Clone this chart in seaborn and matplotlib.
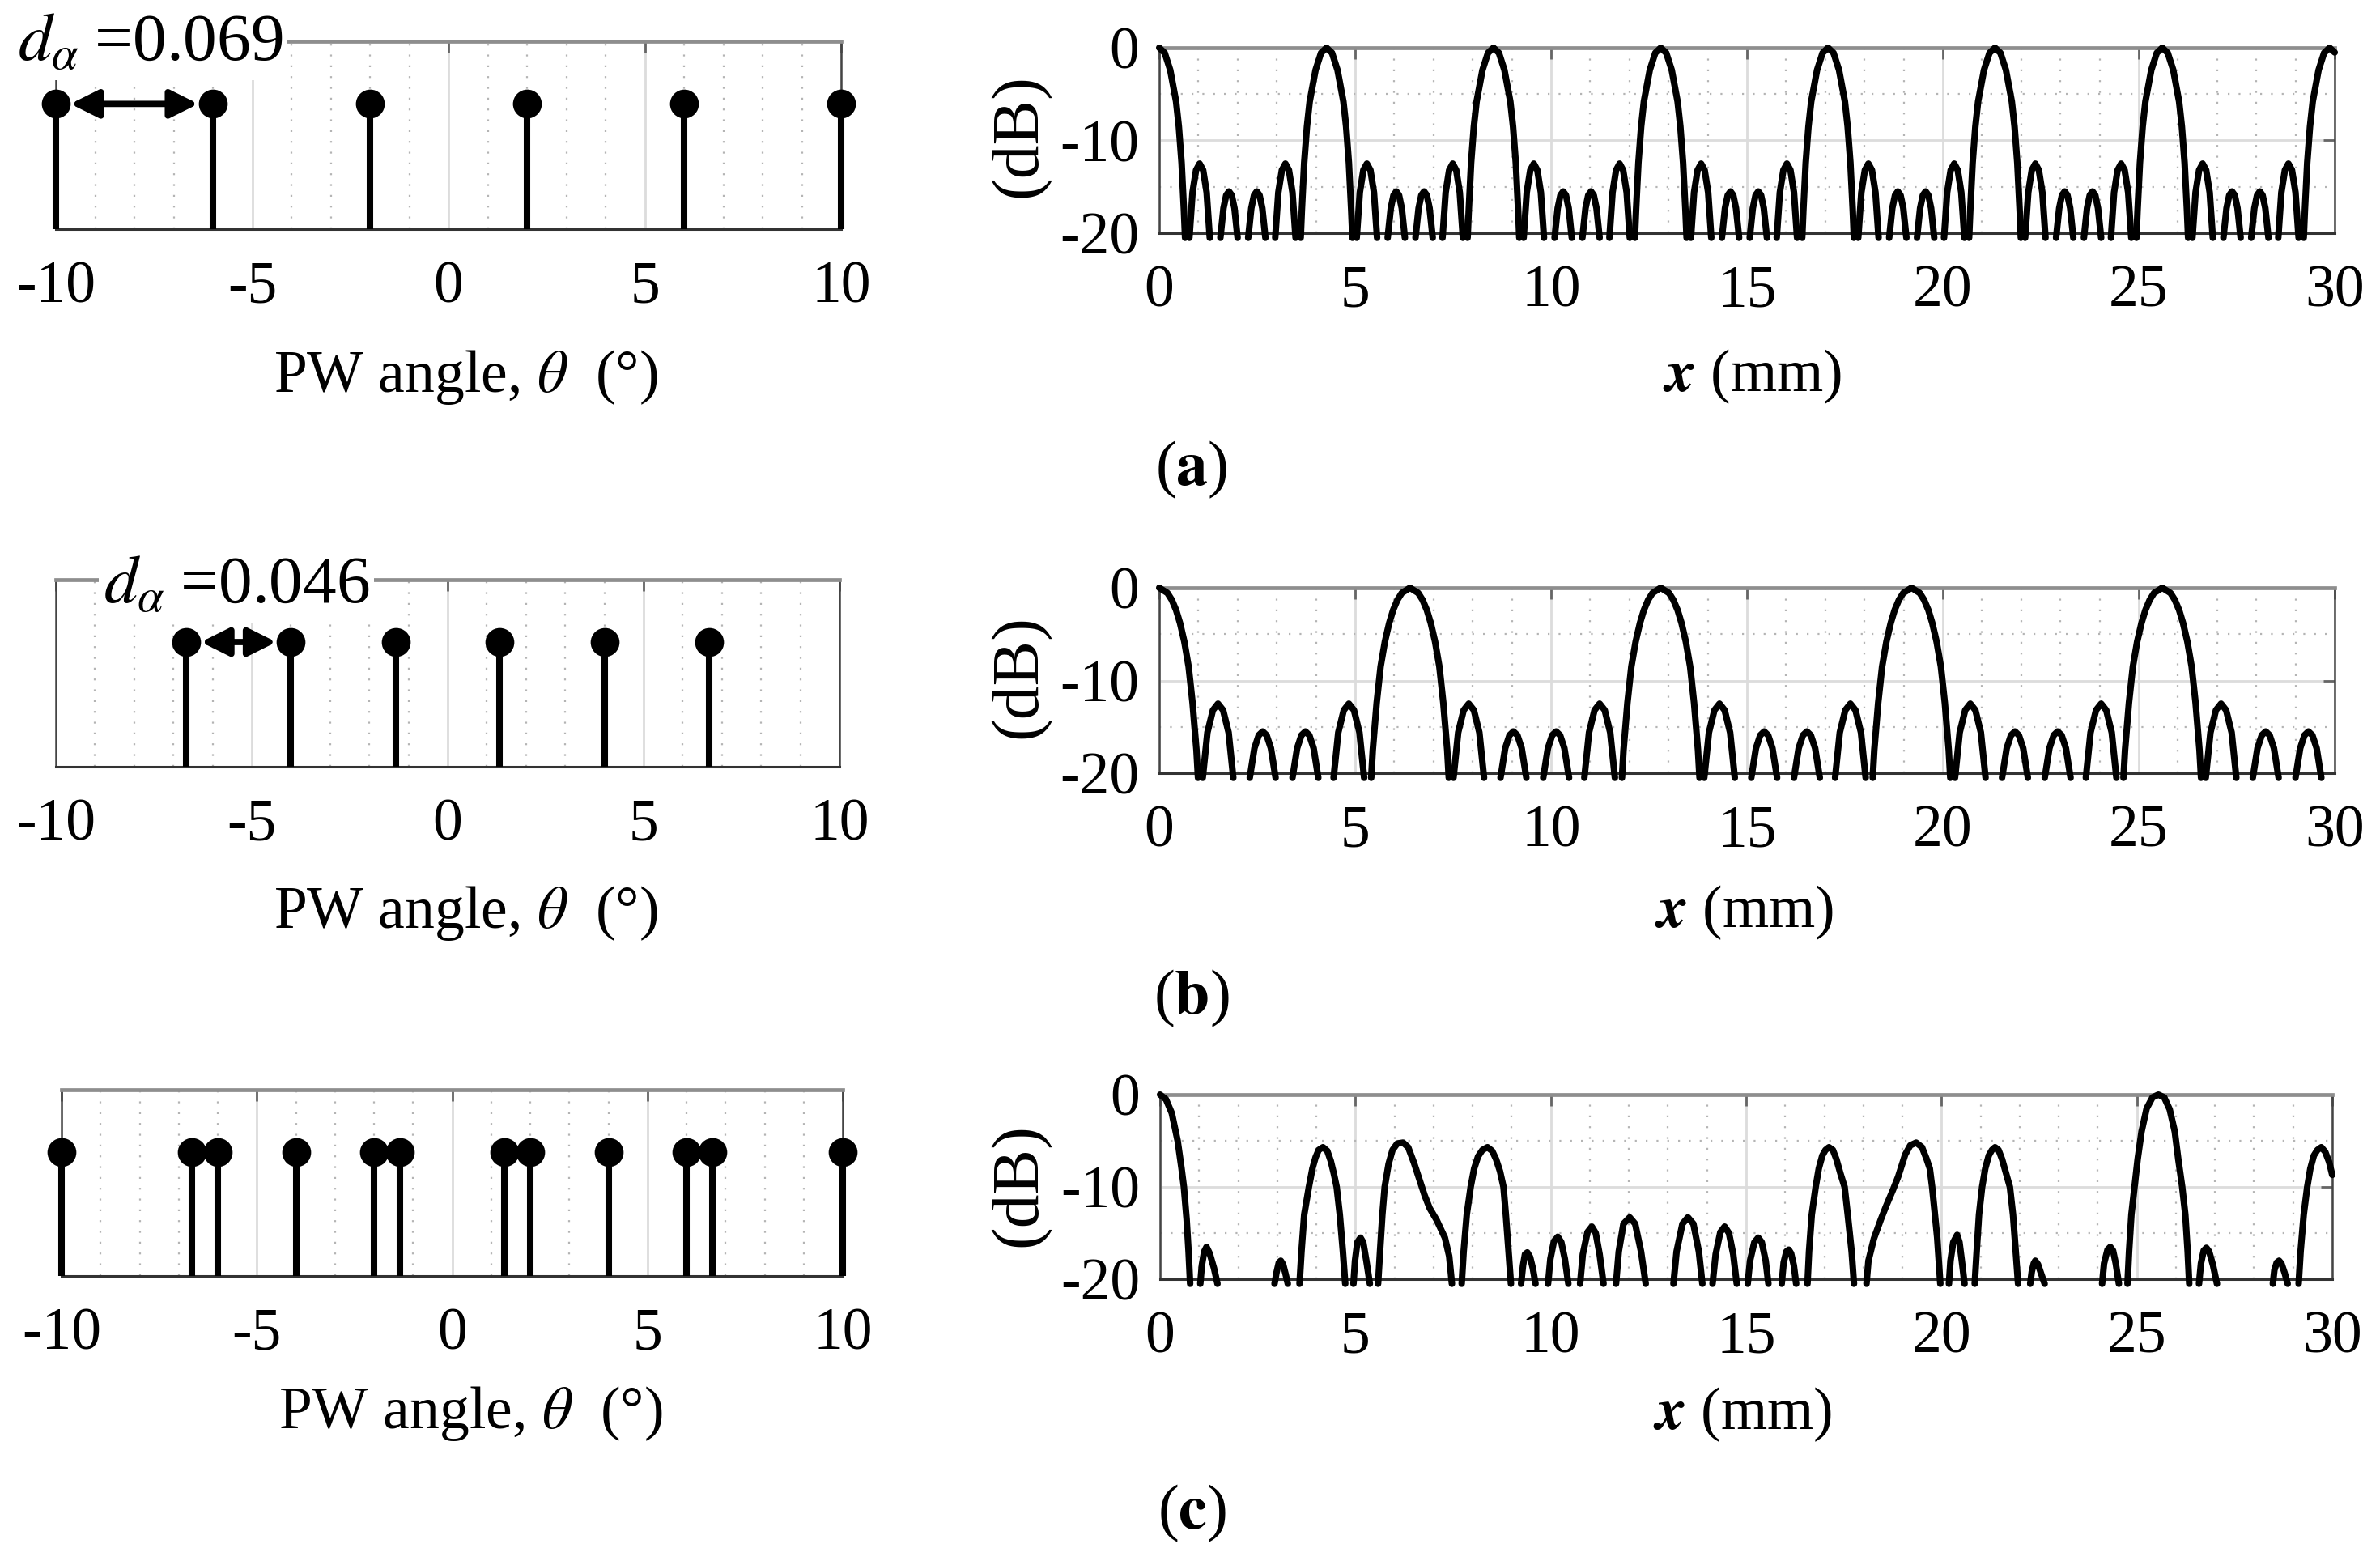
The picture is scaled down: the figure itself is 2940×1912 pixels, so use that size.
#!/usr/bin/env python3
"""Plane-wave angle sets (left) and the grating lobe profiles they produce (right)."""

import numpy as np
import pandas as pd
import matplotlib
matplotlib.use("Agg")
import matplotlib.pyplot as plt
from matplotlib.ticker import MultipleLocator
import seaborn as sns

GAP = np.nan  # breaks the curve where it drops under -20 dB

ANGLES_A = [-10, -6, -2, 2, 6, 10]
ANGLES_B = [-6.67, -4, -1.33, 1.33, 4, 6.67]
ANGLES_C = [-10, -6.67, -6, -4, -2, -1.33, 1.33, 2, 4, 6, 6.67, 10]

ANGLE_TICKS = [-10, -5, 0, 5, 10]
X_TICKS = [0, 5, 10, 15, 20, 25, 30]
DB_TICKS = [-20, -10, 0]

PROFILE_A_X = [
    0, .14, .28, .43, .50, .57, .63, .66, GAP,
    .77, .85, .94, 1.03, 1.12, 1.21, 1.29, GAP, 1.56, 1.64, 1.71, 1.78, 1.85, 1.92, 2.00, GAP,
    2.27, 2.35, 2.42, 2.49, 2.56, 2.63, 2.71, GAP, 2.96, 3.04, 3.13, 3.22, 3.31, 3.40, 3.48, GAP,
    3.61, 3.64, 3.70, 3.77, 3.84, 3.99, 4.13, 4.27, 4.41, 4.55, 4.70, 4.77, 4.84, 4.90, 4.93, GAP,
    5.04, 5.12, 5.21, 5.30, 5.39, 5.48, 5.56, GAP, 5.83, 5.91, 5.98, 6.05, 6.12, 6.19, 6.27, GAP,
    6.54, 6.62, 6.69, 6.76, 6.83, 6.90, 6.98, GAP, 7.23, 7.31, 7.40, 7.49, 7.58, 7.67, 7.75, GAP,
    7.87, 7.90, 7.96, 8.03, 8.10, 8.25, 8.39, 8.53, 8.67, 8.81, 8.96, 9.03, 9.10, 9.16, 9.19, GAP,
    9.30, 9.38, 9.47, 9.56, 9.65, 9.74, 9.82, GAP, 10.09, 10.17, 10.24, 10.31, 10.38, 10.45, 10.53, GAP,
    10.80, 10.88, 10.95, 11.02, 11.09, 11.16, 11.24, GAP, 11.49, 11.57, 11.66, 11.75, 11.84, 11.93, 12.01, GAP,
    12.14, 12.17, 12.23, 12.30, 12.37, 12.52, 12.66, 12.80, 12.94, 13.08, 13.23, 13.30, 13.37, 13.43, 13.46, GAP,
    13.57, 13.65, 13.74, 13.83, 13.92, 14.01, 14.09, GAP, 14.36, 14.44, 14.51, 14.58, 14.65, 14.72, 14.80, GAP,
    15.07, 15.15, 15.22, 15.29, 15.36, 15.43, 15.51, GAP, 15.76, 15.84, 15.93, 16.02, 16.11, 16.20, 16.28, GAP,
    16.41, 16.44, 16.50, 16.57, 16.64, 16.79, 16.93, 17.07, 17.21, 17.35, 17.50, 17.57, 17.64, 17.70, 17.73, GAP,
    17.84, 17.92, 18.01, 18.10, 18.19, 18.28, 18.36, GAP, 18.63, 18.71, 18.78, 18.85, 18.92, 18.99, 19.07, GAP,
    19.34, 19.42, 19.49, 19.56, 19.63, 19.70, 19.78, GAP, 20.03, 20.11, 20.20, 20.29, 20.38, 20.47, 20.55, GAP,
    20.67, 20.70, 20.76, 20.83, 20.90, 21.05, 21.19, 21.33, 21.47, 21.61, 21.76, 21.83, 21.90, 21.96, 21.99, GAP,
    22.10, 22.18, 22.27, 22.36, 22.45, 22.54, 22.62, GAP, 22.89, 22.97, 23.04, 23.11, 23.18, 23.25, 23.33, GAP,
    23.60, 23.68, 23.75, 23.82, 23.89, 23.96, 24.04, GAP, 24.29, 24.37, 24.46, 24.55, 24.64, 24.73, 24.81, GAP,
    24.94, 24.97, 25.03, 25.10, 25.17, 25.32, 25.46, 25.60, 25.74, 25.88, 26.03, 26.10, 26.17, 26.23, 26.26, GAP,
    26.37, 26.45, 26.54, 26.63, 26.72, 26.81, 26.89, GAP, 27.16, 27.24, 27.31, 27.38, 27.45, 27.52, 27.60, GAP,
    27.87, 27.95, 28.02, 28.09, 28.16, 28.23, 28.31, GAP, 28.56, 28.64, 28.73, 28.82, 28.91, 29.00, 29.08, GAP,
    29.21, 29.24, 29.30, 29.37, 29.44, 29.59, 29.73, 29.87, 30.00,
]
PROFILE_A_DB = [
    0, -.56, -2.4, -5.8, -8.5, -12.4, -17.5, -20.5, GAP,
    -20.5, -15.6, -13.2, -12.5, -13.2, -15.6, -20.5, GAP, -20.5, -17.3, -15.9, -15.5, -15.9, -17.3, -20.5, GAP,
    -20.5, -17.3, -15.9, -15.5, -15.9, -17.3, -20.5, GAP, -20.5, -15.6, -13.2, -12.5, -13.2, -15.6, -20.5, GAP,
    -20.5, -17.5, -12.4, -8.5, -5.8, -2.4, -.56, 0, -.56, -2.4, -5.8, -8.5, -12.4, -17.5, -20.5, GAP,
    -20.5, -15.6, -13.2, -12.5, -13.2, -15.6, -20.5, GAP, -20.5, -17.3, -15.9, -15.5, -15.9, -17.3, -20.5, GAP,
    -20.5, -17.3, -15.9, -15.5, -15.9, -17.3, -20.5, GAP, -20.5, -15.6, -13.2, -12.5, -13.2, -15.6, -20.5, GAP,
    -20.5, -17.5, -12.4, -8.5, -5.8, -2.4, -.56, 0, -.56, -2.4, -5.8, -8.5, -12.4, -17.5, -20.5, GAP,
    -20.5, -15.6, -13.2, -12.5, -13.2, -15.6, -20.5, GAP, -20.5, -17.3, -15.9, -15.5, -15.9, -17.3, -20.5, GAP,
    -20.5, -17.3, -15.9, -15.5, -15.9, -17.3, -20.5, GAP, -20.5, -15.6, -13.2, -12.5, -13.2, -15.6, -20.5, GAP,
    -20.5, -17.5, -12.4, -8.5, -5.8, -2.4, -.56, 0, -.56, -2.4, -5.8, -8.5, -12.4, -17.5, -20.5, GAP,
    -20.5, -15.6, -13.2, -12.5, -13.2, -15.6, -20.5, GAP, -20.5, -17.3, -15.9, -15.5, -15.9, -17.3, -20.5, GAP,
    -20.5, -17.3, -15.9, -15.5, -15.9, -17.3, -20.5, GAP, -20.5, -15.6, -13.2, -12.5, -13.2, -15.6, -20.5, GAP,
    -20.5, -17.5, -12.4, -8.5, -5.8, -2.4, -.56, 0, -.56, -2.4, -5.8, -8.5, -12.4, -17.5, -20.5, GAP,
    -20.5, -15.6, -13.2, -12.5, -13.2, -15.6, -20.5, GAP, -20.5, -17.3, -15.9, -15.5, -15.9, -17.3, -20.5, GAP,
    -20.5, -17.3, -15.9, -15.5, -15.9, -17.3, -20.5, GAP, -20.5, -15.6, -13.2, -12.5, -13.2, -15.6, -20.5, GAP,
    -20.5, -17.5, -12.4, -8.5, -5.8, -2.4, -.56, 0, -.56, -2.4, -5.8, -8.5, -12.4, -17.5, -20.5, GAP,
    -20.5, -15.6, -13.2, -12.5, -13.2, -15.6, -20.5, GAP, -20.5, -17.3, -15.9, -15.5, -15.9, -17.3, -20.5, GAP,
    -20.5, -17.3, -15.9, -15.5, -15.9, -17.3, -20.5, GAP, -20.5, -15.6, -13.2, -12.5, -13.2, -15.6, -20.5, GAP,
    -20.5, -17.5, -12.4, -8.5, -5.8, -2.4, -.56, 0, -.56, -2.4, -5.8, -8.5, -12.4, -17.5, -20.5, GAP,
    -20.5, -15.6, -13.2, -12.5, -13.2, -15.6, -20.5, GAP, -20.5, -17.3, -15.9, -15.5, -15.9, -17.3, -20.5, GAP,
    -20.5, -17.3, -15.9, -15.5, -15.9, -17.3, -20.5, GAP, -20.5, -15.6, -13.2, -12.5, -13.2, -15.6, -20.5, GAP,
    -20.5, -17.5, -12.4, -8.5, -5.8, -2.4, -.56, 0, -.5,
]

PROFILE_B_X = [
    0, .21, .32, .43, .53, .64, .75, .85, .95, .99, GAP,
    1.11, 1.23, 1.37, 1.50, 1.63, 1.77, 1.89, GAP, 2.31, 2.43, 2.54, 2.64, 2.74, 2.85, 2.97, GAP,
    3.40, 3.52, 3.63, 3.73, 3.83, 3.94, 4.06, GAP, 4.45, 4.57, 4.71, 4.84, 4.97, 5.11, 5.23, GAP,
    5.41, 5.45, 5.55, 5.65, 5.76, 5.87, 5.97, 6.08, 6.19, 6.40, 6.61, 6.72, 6.83, 6.93, 7.04, 7.15, 7.25, 7.35, 7.39, GAP,
    7.51, 7.63, 7.77, 7.90, 8.03, 8.17, 8.29, GAP, 8.71, 8.83, 8.94, 9.04, 9.14, 9.25, 9.37, GAP,
    9.80, 9.92, 10.03, 10.13, 10.23, 10.34, 10.46, GAP, 10.85, 10.97, 11.11, 11.24, 11.37, 11.51, 11.63, GAP,
    11.81, 11.85, 11.95, 12.05, 12.16, 12.27, 12.37, 12.48, 12.59, 12.80, 13.01, 13.12, 13.23, 13.33, 13.44, 13.55, 13.65, 13.75, 13.79, GAP,
    13.91, 14.03, 14.17, 14.30, 14.43, 14.57, 14.69, GAP, 15.11, 15.23, 15.34, 15.44, 15.54, 15.65, 15.77, GAP,
    16.20, 16.32, 16.43, 16.53, 16.63, 16.74, 16.86, GAP, 17.25, 17.37, 17.51, 17.64, 17.77, 17.91, 18.03, GAP,
    18.21, 18.25, 18.35, 18.45, 18.56, 18.67, 18.77, 18.88, 18.99, 19.20, 19.41, 19.52, 19.63, 19.73, 19.84, 19.95, 20.05, 20.15, 20.19, GAP,
    20.31, 20.43, 20.57, 20.70, 20.83, 20.97, 21.09, GAP, 21.51, 21.63, 21.74, 21.84, 21.94, 22.05, 22.17, GAP,
    22.60, 22.72, 22.83, 22.93, 23.03, 23.14, 23.26, GAP, 23.65, 23.77, 23.91, 24.04, 24.17, 24.31, 24.43, GAP,
    24.61, 24.65, 24.75, 24.85, 24.96, 25.07, 25.17, 25.28, 25.39, 25.60, 25.81, 25.92, 26.03, 26.13, 26.24, 26.35, 26.45, 26.55, 26.59, GAP,
    26.71, 26.83, 26.97, 27.10, 27.23, 27.37, 27.49, GAP, 27.91, 28.03, 28.14, 28.24, 28.34, 28.45, 28.57, GAP,
    29.00, 29.12, 29.23, 29.33, 29.43, 29.54, 29.66,
]
PROFILE_B_DB = [
    0, -.56, -1.3, -2.4, -3.8, -5.8, -8.5, -12.4, -17.5, -20.5, GAP,
    -20.5, -15.6, -13.2, -12.5, -13.2, -15.6, -20.5, GAP, -20.5, -17.3, -15.9, -15.5, -15.9, -17.3, -20.5, GAP,
    -20.5, -17.3, -15.9, -15.5, -15.9, -17.3, -20.5, GAP, -20.5, -15.6, -13.2, -12.5, -13.2, -15.6, -20.5, GAP,
    -20.5, -17.5, -12.4, -8.5, -5.8, -3.8, -2.4, -1.3, -.56, 0, -.56, -1.3, -2.4, -3.8, -5.8, -8.5, -12.4, -17.5, -20.5, GAP,
    -20.5, -15.6, -13.2, -12.5, -13.2, -15.6, -20.5, GAP, -20.5, -17.3, -15.9, -15.5, -15.9, -17.3, -20.5, GAP,
    -20.5, -17.3, -15.9, -15.5, -15.9, -17.3, -20.5, GAP, -20.5, -15.6, -13.2, -12.5, -13.2, -15.6, -20.5, GAP,
    -20.5, -17.5, -12.4, -8.5, -5.8, -3.8, -2.4, -1.3, -.56, 0, -.56, -1.3, -2.4, -3.8, -5.8, -8.5, -12.4, -17.5, -20.5, GAP,
    -20.5, -15.6, -13.2, -12.5, -13.2, -15.6, -20.5, GAP, -20.5, -17.3, -15.9, -15.5, -15.9, -17.3, -20.5, GAP,
    -20.5, -17.3, -15.9, -15.5, -15.9, -17.3, -20.5, GAP, -20.5, -15.6, -13.2, -12.5, -13.2, -15.6, -20.5, GAP,
    -20.5, -17.5, -12.4, -8.5, -5.8, -3.8, -2.4, -1.3, -.56, 0, -.56, -1.3, -2.4, -3.8, -5.8, -8.5, -12.4, -17.5, -20.5, GAP,
    -20.5, -15.6, -13.2, -12.5, -13.2, -15.6, -20.5, GAP, -20.5, -17.3, -15.9, -15.5, -15.9, -17.3, -20.5, GAP,
    -20.5, -17.3, -15.9, -15.5, -15.9, -17.3, -20.5, GAP, -20.5, -15.6, -13.2, -12.5, -13.2, -15.6, -20.5, GAP,
    -20.5, -17.5, -12.4, -8.5, -5.8, -3.8, -2.4, -1.3, -.56, 0, -.56, -1.3, -2.4, -3.8, -5.8, -8.5, -12.4, -17.5, -20.5, GAP,
    -20.5, -15.6, -13.2, -12.5, -13.2, -15.6, -20.5, GAP, -20.5, -17.3, -15.9, -15.5, -15.9, -17.3, -20.5, GAP,
    -20.5, -17.3, -15.9, -15.5, -15.9, -17.3, -20.5,
]

PROFILE_C_X = [
    0, .15, .30, .45, .55, .61, .68, .73, .77, GAP,
    1.03, 1.07, 1.13, 1.19, 1.27, 1.38, 1.47, GAP,
    2.93, 2.98, 3.04, 3.09, 3.15, 3.21, 3.27, GAP,
    3.57, 3.62, 3.69, 3.81, 3.90, 3.98, 4.06, 4.17, 4.28, 4.37, 4.45, 4.52, 4.60, 4.68, 4.74, GAP,
    4.95, 4.99, 5.05, 5.13, 5.20, 5.28, 5.37, GAP,
    5.58, 5.63, 5.69, 5.75, 5.85, 5.95, 6.07, 6.22, 6.35, 6.50, 6.77, 6.90, 7.08, 7.29, 7.40, 7.47, GAP,
    7.72, 7.77, 7.85, 7.95, 8.04, 8.14, 8.25, 8.38, 8.50, 8.60, 8.70, 8.79, 8.85, 8.92, 8.98, GAP,
    9.24, 9.29, 9.34, 9.40, 9.47, 9.54, 9.61, GAP,
    9.93, 9.99, 10.08, 10.18, 10.27, 10.36, 10.45, GAP,
    10.75, 10.82, 10.94, 11.05, 11.15, 11.25, 11.35, GAP,
    11.67, 11.74, 11.86, 12.02, 12.16, 12.31, 12.43, GAP,
    13.14, 13.22, 13.37, 13.51, 13.65, 13.79, 13.88, GAP,
    14.14, 14.22, 14.34, 14.45, 14.56, 14.67, 14.76, GAP,
    15.04, 15.10, 15.21, 15.31, 15.40, 15.50, 15.57, GAP,
    15.91, 15.96, 16.03, 16.09, 16.15, 16.22, 16.28, GAP,
    16.57, 16.61, 16.68, 16.78, 16.86, 16.95, 17.03, 17.12, 17.22, 17.31, 17.41, 17.52, 17.60, 17.70, 17.76, GAP,
    18.08, 18.13, 18.27, 18.45, 18.58, 18.76, 18.89, 19.07, 19.20, 19.35, 19.50, 19.62, 19.70, 19.76, 19.82, 19.89, 19.97, GAP,
    20.19, 20.23, 20.30, 20.40, 20.46, 20.52, 20.59, GAP,
    20.85, 20.90, 20.96, 21.04, 21.12, 21.21, 21.29, 21.37, 21.46, 21.55, 21.65, 21.75, 21.83, 21.90, 21.96, GAP,
    22.27, 22.31, 22.36, 22.40, 22.47, 22.55, 22.64, GAP,
    24.11, 24.16, 24.25, 24.32, 24.39, 24.46, 24.54, GAP,
    24.76, 24.80, 24.86, 24.94, 25.02, 25.12, 25.25, 25.40, 25.55, 25.70, 25.84, 25.97, 26.06, 26.16, 26.24, 26.30, 26.34, GAP,
    26.59, 26.64, 26.71, 26.78, 26.85, 26.95, 27.05, GAP,
    28.48, 28.52, 28.58, 28.64, 28.70, 28.78, 28.86, GAP,
    29.14, 29.19, 29.27, 29.36, 29.44, 29.53, 29.62, 29.72, 29.82, 29.92, 30.00,
]
PROFILE_C_DB = [
    0, -.5, -2, -5, -8, -10, -13.5, -17, -20.5, GAP,
    -20.5, -18.5, -17, -16.5, -17.2, -18.8, -20.5, GAP,
    -20.5, -19.3, -18.2, -18, -18.4, -19.4, -20.5, GAP,
    -20.5, -17, -13, -10, -8, -6.8, -6, -5.7, -6.1, -7.2, -8.6, -10, -13, -17, -20.5, GAP,
    -20.5, -18, -16, -15.5, -16, -18, -20.5, GAP,
    -20.5, -17, -13, -10, -7.5, -6, -5.3, -5.2, -5.7, -7.4, -10.9, -12.3, -13.6, -15.5, -17.5, -20.5, GAP,
    -20.5, -17, -13, -10, -8, -6.7, -6, -5.7, -6.1, -7, -8.3, -10, -13, -17, -20.5, GAP,
    -20.5, -18.5, -17.3, -17.1, -17.6, -18.8, -20.5, GAP,
    -20.5, -17.8, -15.9, -15.4, -16, -17.8, -20.5, GAP,
    -20.5, -17.3, -14.9, -14.3, -15, -17.3, -20.5, GAP,
    -20.5, -17, -14, -13.3, -14, -17, -20.5, GAP,
    -20.5, -17, -14, -13.3, -14, -17, -20.5, GAP,
    -20.5, -17.3, -14.9, -14.3, -15, -17.3, -20.5, GAP,
    -20.5, -18, -16, -15.5, -16, -18, -20.5, GAP,
    -20.5, -18.2, -17, -16.8, -17.2, -18.5, -20.5, GAP,
    -20.5, -17, -13, -10, -8, -6.6, -6, -5.7, -6, -7, -8.5, -10, -13, -17, -20.5, GAP,
    -20.5, -18, -15.6, -13.5, -12.1, -10.3, -8.9, -6.5, -5.5, -5.2, -5.7, -7, -8, -10, -12.5, -15.5, -20.5, GAP,
    -20.5, -18, -16, -15.2, -16, -18, -20.5, GAP,
    -20.5, -17, -13, -10, -8, -6.6, -6, -5.7, -6, -7, -8.5, -10, -13, -17, -20.5, GAP,
    -20.5, -19.2, -18.3, -18, -18.4, -19.4, -20.5, GAP,
    -20.5, -18.3, -16.8, -16.5, -16.9, -18.3, -20.5, GAP,
    -20.5, -17, -13, -10, -7, -4, -1.5, -.3, 0, -.3, -1.6, -4, -7, -10, -13, -17, -20.5, GAP,
    -20.5, -18.3, -16.9, -16.6, -17, -18.5, -20.5, GAP,
    -20.5, -19, -18.2, -18, -18.3, -19.3, -20.5, GAP,
    -20.5, -17, -13, -10, -8, -6.6, -6, -5.7, -6.2, -7.3, -8.7,
]

W, H = 2940, 1912
PW_LABEL = r"PW angle, $\theta$  (°)"
X_LABEL = r"$\mathbfit{x}$ (mm)"

sns.set_theme(style="white")
plt.rcParams["font.family"] = ["Liberation Serif", "DejaVu Sans"]
plt.rcParams["mathtext.fontset"] = "stix"
plt.rcParams["axes.unicode_minus"] = False


def make_axes(fig, left, right, top, bottom):
    """Axes placed by its pixel box in the final image"""
    return fig.add_axes([left / W, 1 - bottom / H, (right - left) / W, (bottom - top) / H])


def style_frame(ax):
    """Blurred grey top edge, thin dark sides, light solid and dotted grid"""
    ax.spines["top"].set(color="#8e8e8e", linewidth=1.7)
    ax.spines["left"].set(color="#444444", linewidth=0.9)
    ax.spines["right"].set(color="#444444", linewidth=0.9)
    ax.spines["bottom"].set(color="#333333", linewidth=1.1)
    ax.set_axisbelow(True)
    ax.grid(True, which="major", color="#dcdcdc", linewidth=1.0)
    ax.grid(True, which="minor", color="#b4b4b4", linewidth=0.8, linestyle=(0, (1, 5)))
    ax.tick_params(which="major", direction="in", top=True, right=True, length=5,
                   width=1.0, color="#666666", labelsize=26.5, labelcolor="black")
    ax.tick_params(which="minor", length=0)
    ax.tick_params(axis="x", pad=14)
    ax.tick_params(axis="y", pad=9)


def draw_angles(ax, angles):
    """Stem plot of the transmitted plane-wave angles"""
    ax.vlines(angles, 0, 1, color="black", linewidth=2.9, zorder=3, clip_on=False)
    sns.scatterplot(x=angles, y=[1] * len(angles), color="black", s=165, linewidth=0,
                    ax=ax, zorder=4, clip_on=False)
    ax.set_xlim(-10, 10)
    ax.set_ylim(0, 1.5)
    ax.set_xticks(ANGLE_TICKS)
    ax.set_yticks([])
    ax.xaxis.set_minor_locator(MultipleLocator(1))
    style_frame(ax)
    ax.grid(False, axis="y")


def draw_profile(ax, x_vals, db_vals):
    """Lateral profile in dB, one separate line per lobe above the -20 dB floor"""
    df = pd.DataFrame({"x": x_vals, "db": db_vals})
    df["lobe"] = df["db"].isna().cumsum()
    df = df.dropna()
    sns.lineplot(data=df, x="x", y="db", units="lobe", estimator=None, sort=False,
                 color="black", linewidth=2.9, ax=ax, zorder=3, clip_on=False,
                 solid_capstyle="round", solid_joinstyle="round")
    ax.set_xlim(0, 30)
    ax.set_ylim(-20, 0)
    ax.set_xticks(X_TICKS)
    ax.set_yticks(DB_TICKS)
    ax.xaxis.set_minor_locator(MultipleLocator(1))
    ax.yaxis.set_minor_locator(MultipleLocator(5))
    style_frame(ax)


def place_xlabel(fig, ax, text, px, py):
    ax.set_xlabel(text, fontsize=26.5, color="black", va="center", ha="center")
    ax.xaxis.set_label_coords(px / W, 1 - py / H, transform=fig.transFigure)


def place_ylabel(fig, ax, text, px, py):
    ax.set_ylabel(text, fontsize=30, color="black", va="center", ha="center")
    ax.yaxis.set_label_coords(px / W, 1 - py / H, transform=fig.transFigure)


def spacing_note(fig, ax, text, px, py, start, stop):
    """Spacing value sitting over the top edge, and the arrow between two stems"""
    fig.text(px / W, 1 - py / H, text, fontsize=30, color="black", ha="left", va="baseline",
             zorder=5, bbox=dict(facecolor="white", edgecolor="none", pad=2))
    ax.annotate("", xy=(stop, 1), xytext=(start, 1), zorder=5,
                arrowprops=dict(arrowstyle="<|-|>", color="black", linewidth=2.8,
                                mutation_scale=26, shrinkA=6.5, shrinkB=6.5))


def main():
    fig = plt.figure(figsize=(W / 200, H / 200), dpi=200, facecolor="white")

    ax_a1 = make_axes(fig, 69, 1039, 51, 283)
    ax_a2 = make_axes(fig, 1432, 2884, 59, 288)
    ax_b1 = make_axes(fig, 69, 1037, 716, 947)
    ax_b2 = make_axes(fig, 1432, 2884, 726, 955)
    ax_c1 = make_axes(fig, 76, 1041, 1346, 1576)
    ax_c2 = make_axes(fig, 1433, 2881, 1352, 1580)

    draw_angles(ax_a1, ANGLES_A)
    draw_angles(ax_b1, ANGLES_B)
    draw_angles(ax_c1, ANGLES_C)
    draw_profile(ax_a2, PROFILE_A_X, PROFILE_A_DB)
    draw_profile(ax_b2, PROFILE_B_X, PROFILE_B_DB)
    draw_profile(ax_c2, PROFILE_C_X, PROFILE_C_DB)

    place_xlabel(fig, ax_a1, PW_LABEL, 575, 466)
    place_xlabel(fig, ax_b1, PW_LABEL, 575, 1128)
    place_xlabel(fig, ax_c1, PW_LABEL, 581, 1746)
    place_xlabel(fig, ax_a2, X_LABEL, 2164, 465)
    place_xlabel(fig, ax_b2, X_LABEL, 2154, 1127)
    place_xlabel(fig, ax_c2, X_LABEL, 2152, 1747)
    place_ylabel(fig, ax_a2, "(dB)", 1260, 168)
    place_ylabel(fig, ax_b2, "(dB)", 1260, 836)
    place_ylabel(fig, ax_c2, "(dB)", 1260, 1464)

    spacing_note(fig, ax_a1, r"$d_{\alpha}\;$=0.069", 22, 75, -10, -6)
    spacing_note(fig, ax_b1, r"$d_{\alpha}\;$=0.046", 128, 745, -6.67, -4)

    for letter, py in zip("abc", [580, 1233, 1869]):
        fig.text(1472 / W, 1 - py / H, rf"($\mathbf{{{letter}}}$)", fontsize=28,
                 color="black", ha="center", va="center")

    fig.savefig("out.png", dpi=200, facecolor="white")
    plt.close(fig)


if __name__ == "__main__":
    main()
